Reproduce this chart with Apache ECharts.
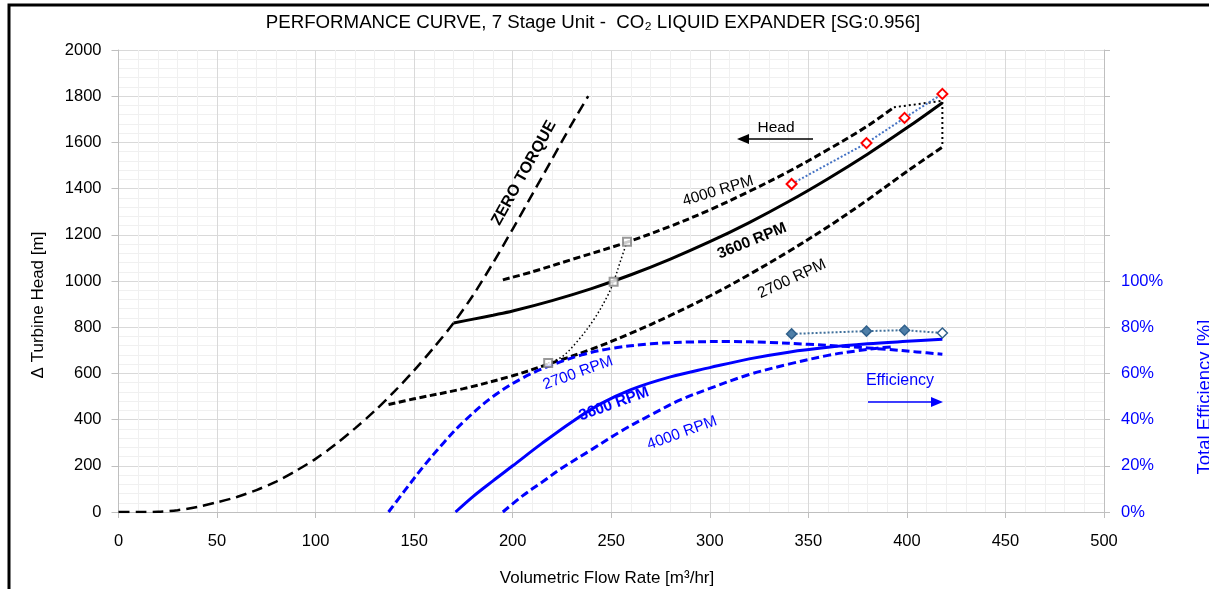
<!DOCTYPE html>
<html><head><meta charset="utf-8">
<script src="https://cdn.jsdelivr.net/npm/echarts/dist/echarts.min.js"></script>
<style>html,body{margin:0;padding:0;background:#fff}#c{width:1209px;height:589px}</style>
</head><body><div id="c"></div>
<script>
// ---------- data ----------
const zeroTorqueQ = [0,10,20,30,40,50,60,70,80,90,100,110,120,130,140,150,160,170,180,190,200,210,220,230,238.3];
const zeroTorqueH = [0,0,1,8,22,42,65,95,132,178,230,292,362,438,522,613,712,818,940,1078,1225,1376,1528,1680,1800];

const head2700Q = [137,150,175,200,218,240,260,280,300,320,340,360,380,400,418];
const head2700H = [465,490,534,590,640,705,774,851,935,1028,1128,1235,1351,1474,1580];

const head3600Q = [170,180,190,200,220,240,260,280,300,320,340,360,380,400,418];
const head3600H = [818,835,852,870,915,967,1027,1095,1170,1253,1344,1443,1549,1663,1772];

const head4000Q = [195,210,230,258,280,300,320,340,360,380,393.4];
const head4000H = [1005,1040,1093,1168,1237,1308,1388,1474,1569,1671,1752];

const envelopeQ = [393.4,418,418];
const envelopeH = [1752,1780,1580];

const minFlowQ = [218,225,232.6,241,247.9,251.2,254.6,258];
const minFlowH = [645,672,737,831,932,997,1084,1170];

const minFlowPtQ = [218,251.2,258];
const minFlowPtH = [645,997,1170];

const testQ = [341.5,379.5,398.8,418];
const testHead = [1420,1597,1706,1810];
const testEff = [77.1,78.3,78.7,77.5];

const eff2700Q = [137,145,155,165,175,190,205,218,235,250,270,290,310,330,350,370,390,405,418];
const eff2700E = [0,9,20,30,39,50,58,63,68,70.8,72.8,73.6,73.8,73.4,72.6,71.6,70.4,69.3,68.3];

const eff3600Q = [171,180,190,200,215,230,245,260,280,300,320,340,360,380,400,418];
const eff3600E = [0,6.8,13.5,20,29.8,39,47,53,58.5,62.5,66.3,69.2,71.3,72.8,73.9,74.8];

const eff4000Q = [195,205,215,225,240,255,270,285,300,320,340,360,375,385,393.4];
const eff4000E = [0,7,13,19,27,35,42,48.5,53.5,59.5,64,67.8,69.8,70.9,71.6];

const titleText = 'PERFORMANCE CURVE, 7 Stage Unit -  CO\u2082 LIQUID EXPANDER [SG:0.956]';
const xName = 'Volumetric Flow Rate [m\u00B3/hr]';
const yName = '\u0394 Turbine Head [m]';
const y2Name = 'Total Efficiency [%]';

// ---------- rendering ----------
function zip(a,b){return a.map((v,i)=>[v,b[i]]);}
const FONT = '"Liberation Sans",Arial,sans-serif';
const BLUE = '#0000FF';
const DEG = Math.PI/180;

const chart = echarts.init(document.getElementById('c'), null, {renderer:'canvas'});

function lineSeries(data, color, width, type, extra){
  return Object.assign({
    type:'line', data:data, showSymbol:false, symbol:'none',
    smooth:0.35,
    lineStyle:{color:color, width:width, type:type},
    itemStyle:{color:color}, animation:false, silent:true
  }, extra||{});
}

function txt(text, x, y, opts){
  opts = opts||{};
  return {
    type:'text', x:x, y:y, rotation:(opts.rot||0)*DEG, z:100,
    style:{
      text:text, fill:opts.color||'#000',
      fontSize:opts.size||16, fontFamily:FONT, fontWeight:opts.bold?'bold':'normal',
      align:'center', verticalAlign:'middle', textAlign:'center', textVerticalAlign:'middle'
    }
  };
}

const gridLine = {lineStyle:{color:'#D9D9D9', width:1}};
const minorGridLine = {show:true, lineStyle:{color:'#F0F0F0', width:1}};
const plain = function(v){return String(v);};

chart.setOption({
  animation:false,
  backgroundColor:'#fff',
  grid:{left:118.5, right:105, top:50, bottom:77, containLabel:false},
  xAxis:{
    type:'value', min:0, max:500, interval:50,
    axisLine:{show:true, onZero:false, lineStyle:{color:'#BFBFBF'}},
    axisTick:{show:true, length:6, lineStyle:{color:'#BFBFBF'}},
    minorTick:{show:false, splitNumber:5},
    axisLabel:{color:'#000', fontSize:16.5, fontFamily:FONT, margin:21, formatter:plain},
    splitLine:gridLine, minorSplitLine:minorGridLine
  },
  yAxis:[{
    type:'value', min:0, max:2000, interval:200, position:'left',
    axisLine:{show:true, onZero:false, lineStyle:{color:'#BFBFBF'}},
    axisTick:{show:true, length:7, lineStyle:{color:'#BFBFBF'}},
    minorTick:{show:false, splitNumber:5},
    axisLabel:{color:'#000', fontSize:16.5, fontFamily:FONT, margin:17, formatter:plain},
    splitLine:gridLine, minorSplitLine:minorGridLine
  },{
    type:'value', min:0, max:200, interval:20, position:'right',
    axisLine:{show:true, onZero:false, lineStyle:{color:'#BFBFBF'}},
    axisTick:{show:true, length:6, lineStyle:{color:'#BFBFBF'}},
    axisLabel:{color:BLUE, fontSize:16.5, fontFamily:FONT, margin:17,
      formatter:function(v){return v<=100 ? v+'%' : '';}},
    splitLine:{show:false}
  }],
  series:[
    lineSeries(zip(zeroTorqueQ, zeroTorqueH), '#000', 2.5, [11,6], {smooth:0.3}),
    lineSeries(zip(head2700Q, head2700H), '#000', 3, [7,3.5]),
    lineSeries(zip(head3600Q, head3600H), '#000', 3, 'solid'),
    lineSeries(zip(head4000Q, head4000H), '#000', 3, [7,3.5]),
    lineSeries(zip(envelopeQ, envelopeH), '#000', 2, [2,3], {smooth:false}),
    lineSeries(zip(minFlowQ, minFlowH), '#000', 1.5, [1.5,2.5]),
    {type:'scatter', data:zip(minFlowPtQ, minFlowPtH), symbol:'rect', symbolSize:8,
      itemStyle:{color:'#fff', borderColor:'#7F7F7F', borderWidth:2}, z:5, silent:true},
    lineSeries(zip(eff2700Q, eff2700E), BLUE, 3, [8,4], {yAxisIndex:1}),
    lineSeries(zip(eff3600Q, eff3600E), BLUE, 3, 'solid', {yAxisIndex:1}),
    lineSeries(zip(eff4000Q, eff4000E), BLUE, 3, [8,4], {yAxisIndex:1}),
    {type:'line', data:zip(testQ, testHead), smooth:false, symbol:'diamond', symbolSize:10, showSymbol:true,
      lineStyle:{color:'#4472C4', width:2, type:[2,2]},
      itemStyle:{color:'#fff', borderColor:'#FF0000', borderWidth:2}, z:6, silent:true},
    {type:'line', yAxisIndex:1, smooth:false, symbol:'diamond', symbolSize:10, showSymbol:true,
      data:zip(testQ, testEff).map(function(p,i){
        return i===testQ.length-1 ? {value:p, itemStyle:{color:'#fff'}} : {value:p};
      }),
      lineStyle:{color:'#41719C', width:2, type:[2,2]},
      itemStyle:{color:'#4F7FA8', borderColor:'#31618C', borderWidth:1.5}, z:6, silent:true}
  ],
  graphic:[
    {type:'rect', shape:{x:9, y:5, width:1230, height:620}, style:{fill:'none', stroke:'#000', lineWidth:3}, z:100},
    txt(titleText, 593, 23, {size:18.7}),
    txt(xName, 607, 578, {size:17}),
    txt(yName, 38, 305, {size:17, rot:90}),
    txt(y2Name, 1205, 397, {size:18.5, rot:90, color:BLUE}),
    txt('ZERO TORQUE', 524, 173, {size:16, bold:true, rot:61}),
    txt('Head', 776, 128, {size:15.5}),
    {type:'line', shape:{x1:813, y1:139, x2:746, y2:139}, style:{stroke:'#000', lineWidth:1.3}, z:100},
    {type:'polygon', shape:{points:[[737,139],[749,134],[749,144]]}, style:{fill:'#000'}, z:100},
    txt('4000 RPM', 718, 191, {size:15.5, rot:17}),
    txt('3600 RPM', 752, 241, {size:15.5, bold:true, rot:22}),
    txt('2700 RPM', 792, 279, {size:15.5, rot:25}),
    txt('2700 RPM', 578, 373, {size:15.5, rot:20, color:BLUE}),
    txt('3600 RPM', 614, 404, {size:15.5, bold:true, rot:20, color:BLUE}),
    txt('4000 RPM', 682, 433, {size:15.5, rot:20, color:BLUE}),
    txt('Efficiency', 900, 381, {size:16, color:BLUE}),
    {type:'line', shape:{x1:868, y1:402, x2:932, y2:402}, style:{stroke:BLUE, lineWidth:1.5}, z:100},
    {type:'polygon', shape:{points:[[943,402],[931,397],[931,407]]}, style:{fill:BLUE}, z:100}
  ]
});
</script></body></html>
